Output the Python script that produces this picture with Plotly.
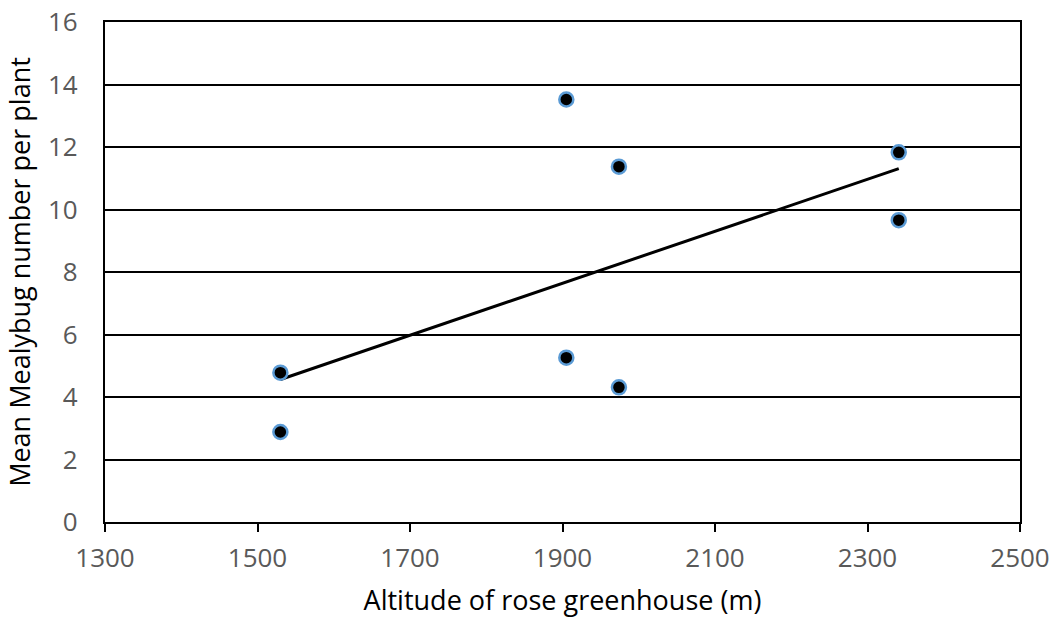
import numpy as np
import plotly.graph_objects as go

altitude = [1530, 1530, 1905, 1905, 1974, 1974, 2341, 2341]
mealybugs = [4.78, 2.88, 5.26, 13.52, 11.37, 4.31, 11.83, 9.66]

x_ticks = [1300, 1500, 1700, 1900, 2100, 2300, 2500]
y_ticks = [0, 2, 4, 6, 8, 10, 12, 14, 16]

slope, intercept = np.polyfit(altitude, mealybugs, 1)
trend_x = [min(altitude), max(altitude)]
trend_y = [slope * v + intercept for v in trend_x]

fig = go.Figure()
fig.add_trace(go.Scatter(x=trend_x, y=trend_y, mode="lines",
                         line=dict(color="black", width=3), showlegend=False))
fig.add_trace(go.Scatter(x=altitude, y=mealybugs, mode="markers",
                         marker=dict(color="black", size=14,
                                     line=dict(color="#5B9BD5", width=2.5)),
                         showlegend=False))

fam = "Open Sans, Liberation Sans, sans-serif"
tick_font = dict(family=fam, size=26, color="#595959")

fig.update_layout(
    width=1053, height=618,
    margin=dict(l=105, r=33, t=22, b=96),
    plot_bgcolor="white", paper_bgcolor="white",
    xaxis=dict(range=[1300, 2500], tickvals=x_ticks, ticktext=[str(v) for v in x_ticks],
               showgrid=False, zeroline=False, automargin=False,
               showline=True, linecolor="black", linewidth=2, mirror=True,
               ticks="outside", ticklen=8, tickwidth=2, tickcolor="black",
               tickfont=tick_font, ticklabelstandoff=4, ticklabeloverflow="allow",
               title=dict(text="Altitude of rose greenhouse (m)",
                          font=dict(family=fam, size=27, color="black"), standoff=17)),
    yaxis=dict(range=[0, 16], tickvals=y_ticks, ticktext=[str(v) for v in y_ticks],
               showgrid=True, gridcolor="black", gridwidth=2.3, zeroline=False, automargin=False,
               showline=True, linecolor="black", linewidth=2.3, mirror=True,
               ticks="", tickfont=tick_font, ticklabelstandoff=20, ticklabeloverflow="allow",
               title=dict(text="Mean Mealybug number per plant",
                          font=dict(family=fam, size=27, color="black"), standoff=9)),
)

fig.write_html("out.html", config={"displayModeBar": False},
               post_script="document.body.style.margin='0';document.body.style.overflow='hidden';")
